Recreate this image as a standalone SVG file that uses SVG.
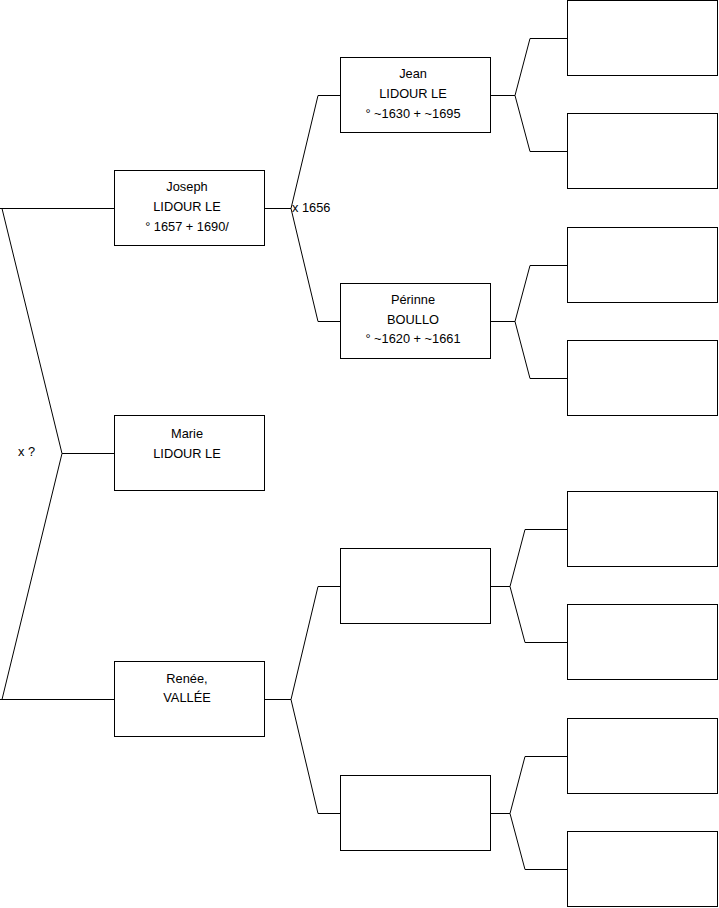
<svg xmlns="http://www.w3.org/2000/svg" width="719" height="908" viewBox="0 0 719 908">
<style>
.box{fill:#fff;stroke:#000;stroke-width:1}
.ln{fill:none;stroke:#000;stroke-width:1}
text{font-family:"Liberation Sans",Arial,sans-serif;font-size:12.8px;fill:#000}
.c{text-anchor:middle}
</style>
<rect width="719" height="908" fill="#fff"/>
<g id="connectors">
<path class="ln" d="M0,208.5H114.5M2,208.5L62,453.5L2,699.5M62,453.5H114.5M0,699.5H114.5"/>
<path class="ln" d="M265,208.5H291M318,95.5L291,208.5L318,321.5M318,95.5H340.5M318,321.5H340.5"/>
<path class="ln" d="M265,699.5H291M318,586.5L291,699.5L318,813.5M318,586.5H340.5M318,813.5H340.5"/>
<path class="ln" d="M491,95.5H515M530,38.5L515,95.5L530,151.5M530,38.5H567.5M530,151.5H567.5"/>
<path class="ln" d="M491,321.5H515M530,265.5L515,321.5L530,378.5M530,265.5H567.5M530,378.5H567.5"/>
<path class="ln" d="M491,586.5H510M525,529.5L510,586.5L525,642.5M525,529.5H567.5M525,642.5H567.5"/>
<path class="ln" d="M491,813.5H510M525,756.5L510,813.5L525,869.5M525,756.5H567.5M525,869.5H567.5"/>
<text x="292" y="212">x 1656</text>
<text x="18" y="456">x ?</text>
</g>
<g id="joseph">
<rect class="box" x="114.5" y="170.5" width="150" height="75"/>
<text class="c" x="187" y="191">Joseph</text>
<text class="c" x="187" y="211">LIDOUR LE</text>
<text class="c" x="187" y="231">° 1657 + 1690/</text>
</g>
<g id="marie">
<rect class="box" x="114.5" y="415.5" width="150" height="75"/>
<text class="c" x="187" y="437.5">Marie</text>
<text class="c" x="187" y="458">LIDOUR LE</text>
</g>
<g id="renee">
<rect class="box" x="114.5" y="661.5" width="150" height="75"/>
<text class="c" x="187" y="683">Renée,</text>
<text class="c" x="187" y="702">VALLÉE</text>
</g>
<g id="jean">
<rect class="box" x="340.5" y="57.5" width="150" height="75"/>
<text class="c" x="413" y="78">Jean</text>
<text class="c" x="413" y="98">LIDOUR LE</text>
<text class="c" x="413" y="118">° ~1630 + ~1695</text>
</g>
<g id="perinne">
<rect class="box" x="340.5" y="283.5" width="150" height="75"/>
<text class="c" x="413" y="304">Périnne</text>
<text class="c" x="413" y="324">BOULLO</text>
<text class="c" x="413" y="343">° ~1620 + ~1661</text>
</g>
<g id="p3a"><rect class="box" x="340.5" y="548.5" width="150" height="75"/></g>
<g id="p3b"><rect class="box" x="340.5" y="775.5" width="150" height="75"/></g>
<g id="p4a"><rect class="box" x="567.5" y="0.5" width="150" height="75"/></g>
<g id="p4b"><rect class="box" x="567.5" y="113.5" width="150" height="75"/></g>
<g id="p4c"><rect class="box" x="567.5" y="227.5" width="150" height="75"/></g>
<g id="p4d"><rect class="box" x="567.5" y="340.5" width="150" height="75"/></g>
<g id="p4e"><rect class="box" x="567.5" y="491.5" width="150" height="75"/></g>
<g id="p4f"><rect class="box" x="567.5" y="604.5" width="150" height="75"/></g>
<g id="p4g"><rect class="box" x="567.5" y="718.5" width="150" height="75"/></g>
<g id="p4h"><rect class="box" x="567.5" y="831.5" width="150" height="75"/></g>
</svg>
